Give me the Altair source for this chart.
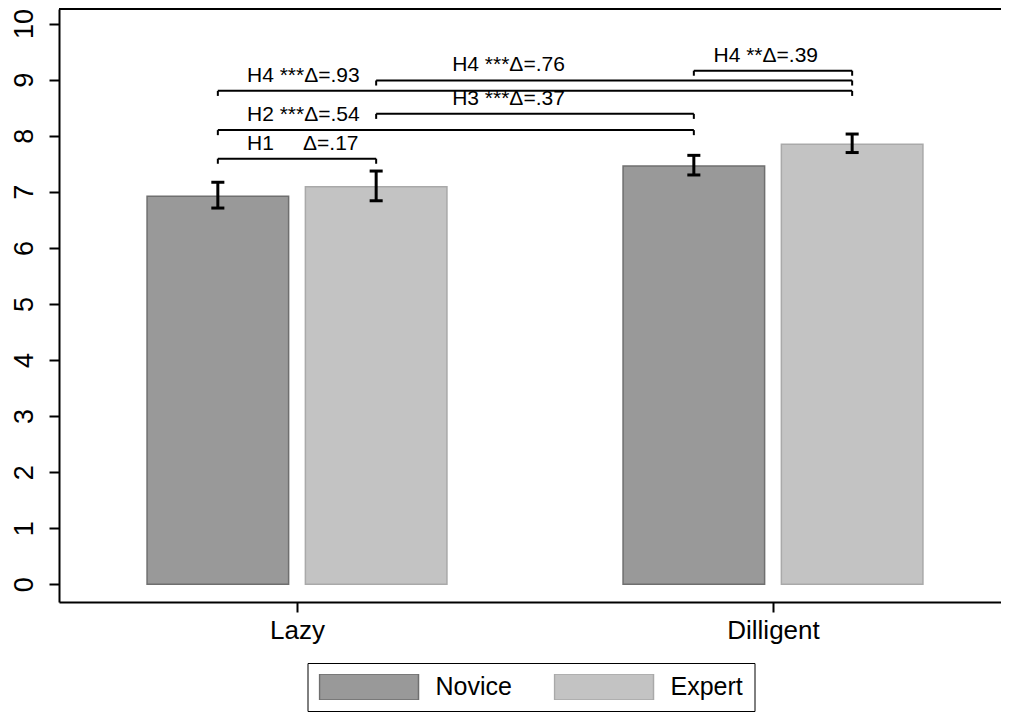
import altair as alt
import pandas as pd

# ---------------- data ----------------
groups = ["Lazy", "Dilligent"]
conditions = ["Novice", "Expert"]
# order: Lazy-Novice, Lazy-Expert, Dilligent-Novice, Dilligent-Expert
means = [6.92, 7.09, 7.46, 7.85]
ci_low = [6.71, 6.84, 7.30, 7.70]
ci_high = [7.17, 7.37, 7.65, 8.03]
y_ticks = list(range(0, 11))

# pairwise comparisons (indices into the four bars)
cmp_from = [0, 0, 1, 0, 1, 2]
cmp_to = [1, 2, 2, 3, 3, 3]
cmp_level = [7.59, 8.10, 8.39, 8.80, 8.985, 9.16]
cmp_label = ["H1\u00a0\u00a0\u00a0\u00a0\u00a0\u0394=.17", "H2 ***\u0394=.54", "H3 ***\u0394=.37",
             "H4 ***\u0394=.93", "H4 ***\u0394=.76", "H4 **\u0394=.39"]
cmp_text_x = [0.895, 0.895, 1.326, 0.895, 1.326, 1.875]

# ---------------- layout constants ----------------
BAR_IN, BAR_OUT = 0.0176, 0.315
CAP = 0.0137
LEG = 0.09
X_DOM = [0.5, 2.479]
Y_DOM = [-0.316, 10.26]
FONT = "Liberation Sans"

rows = []
for i, m in enumerate(means):
    g = i // 2 + 1
    c = i % 2
    sign = -1 if c == 0 else 1
    x0 = g + sign * BAR_IN
    x1 = g + sign * BAR_OUT
    rows.append(dict(group=groups[g - 1], cond=conditions[c], mean=m, lo=ci_low[i], hi=ci_high[i],
                     xa=min(x0, x1), xb=max(x0, x1), xc=(x0 + x1) / 2,
                     capa=(x0 + x1) / 2 - CAP, capb=(x0 + x1) / 2 + CAP, zero=0.0))
bars = pd.DataFrame(rows)
centers = list(bars["xc"])

br = []
for f, t, lv, lab, tx in zip(cmp_from, cmp_to, cmp_level, cmp_label, cmp_text_x):
    br.append(dict(xa=centers[f], xb=centers[t], y=lv, yl=lv - LEG, label=lab, tx=tx))
brk = pd.DataFrame(br)

xs = alt.Scale(domain=X_DOM, nice=False, zero=False)
ys = alt.Scale(domain=Y_DOM, nice=False, zero=False)

color_dom = conditions
fill_rng = ["#999999", "#c3c3c3"]
stroke_rng = ["#6f6f6f", "#a9a9a9"]

legend = alt.Legend(
    orient="none", legendX=248.5, legendY=654, direction="horizontal", title=None,
    strokeColor="black", fillColor="white", padding=11, clipHeight=26,
    symbolType="M-1,-0.2626H1V0.2626H-1Z", symbolSize=9801, symbolStrokeWidth=1.5,
    labelFontSize=25, labelFont=FONT, labelColor="black", labelOffset=16, columnPadding=41,
    symbolOpacity=1,
)

x_axis = alt.Axis(values=[1, 2], labelExpr=f"['{groups[0]}','{groups[1]}'][datum.value-1]",
                  title=None, grid=False, tickSize=10, tickWidth=2, tickColor="black",
                  domainColor="black", domainWidth=2, labelFontSize=26, labelFont=FONT,
                  labelColor="black", labelPadding=5)
y_axis = alt.Axis(values=y_ticks, title=None, grid=False, tickSize=10, tickWidth=2, tickColor="black",
                  domainColor="black", domainWidth=2, labelFontSize=27, labelFont=FONT,
                  labelColor="black", labelAngle=270, labelAlign="center", labelBaseline="bottom",
                  labelPadding=11)


def X(f):
    return alt.X(f, scale=xs, axis=x_axis)


def Y(f):
    return alt.Y(f, scale=ys, axis=y_axis)


bar_layer = alt.Chart(bars).mark_rect(strokeWidth=1.5).encode(
    x=X("xa:Q"), x2="xb:Q", y=Y("zero:Q"), y2="mean:Q",
    fill=alt.Fill("cond:N", scale=alt.Scale(domain=color_dom, range=fill_rng), legend=legend),
    stroke=alt.Stroke("cond:N", scale=alt.Scale(domain=color_dom, range=stroke_rng), legend=legend),
)

err = alt.Chart(bars).mark_rule(color="black", strokeWidth=3).encode(
    x=X("xc:Q"), y=Y("lo:Q"), y2="hi:Q")
cap_lo = alt.Chart(bars).mark_rule(color="black", strokeWidth=3).encode(
    x=X("capa:Q"), x2="capb:Q", y=Y("lo:Q"))
cap_hi = alt.Chart(bars).mark_rule(color="black", strokeWidth=3).encode(
    x=X("capa:Q"), x2="capb:Q", y=Y("hi:Q"))

br_h = alt.Chart(brk).mark_rule(color="black", strokeWidth=2).encode(
    x=X("xa:Q"), x2="xb:Q", y=Y("y:Q"))
br_l = alt.Chart(brk).mark_rule(color="black", strokeWidth=2).encode(
    x=X("xa:Q"), y=Y("y:Q"), y2="yl:Q")
br_r = alt.Chart(brk).mark_rule(color="black", strokeWidth=2).encode(
    x=X("xb:Q"), y=Y("y:Q"), y2="yl:Q")
br_t = alt.Chart(brk).mark_text(align="left", baseline="alphabetic", dy=-9, fontSize=21,
                                font=FONT, color="black").encode(
    x=X("tx:Q"), y=Y("y:Q"), text="label:N")

frame = pd.DataFrame({"xa": [X_DOM[0]], "xb": [X_DOM[1]], "y": [Y_DOM[1]]})
top = alt.Chart(frame).mark_rule(color="black", strokeWidth=2).encode(
    x=X("xa:Q"), x2="xb:Q", y=Y("y:Q"))

chart = alt.layer(bar_layer, err, cap_lo, cap_hi, br_h, br_l, br_r, br_t, top).properties(
    width=942, height=593,
    autosize=alt.AutoSizeParams(type="none"),
    padding={"left": 51, "top": 1, "right": 0, "bottom": 111},
    background="white",
).configure_view(stroke=None)

chart.save("out.html", embed_options={"renderer": "svg", "actions": False})
